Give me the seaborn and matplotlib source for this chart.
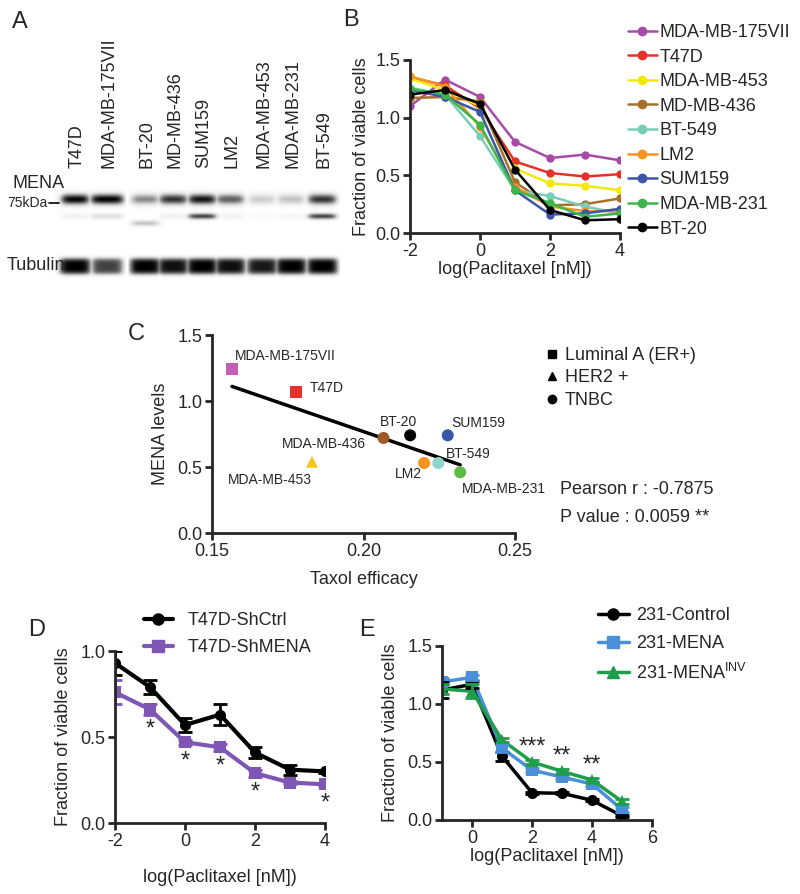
import numpy as np
import pandas as pd
import matplotlib
matplotlib.use('Agg')
import matplotlib.pyplot as plt
from matplotlib.lines import Line2D
import seaborn as sns

sns.set_style('ticks')
plt.rcParams['font.family'] = ['Liberation Sans', 'DejaVu Sans']
plt.rcParams['mathtext.default'] = 'regular'
plt.rcParams['axes.unicode_minus'] = False

# ---------------- data ----------------
# A: western blot, relative band intensities per lane
lanes = ['T47D', 'MDA-MB-175VII', 'BT-20', 'MD-MB-436', 'SUM159', 'LM2',
         'MDA-MB-453', 'MDA-MB-231', 'BT-549']
mena_band = [1.0, 1.0, 0.55, 0.85, 0.95, 0.7, 0.3, 0.35, 0.85]
lower_band = [0.12, 0.22, 0.35, 0.12, 0.8, 0.1, 0.05, 0.08, 0.8]
lower_shift = [0, 0, 7, 0, 0, 0, 0, 0, 0]
tubulin_band = [1.0, 0.8, 1.0, 0.95, 1.0, 0.95, 0.92, 1.0, 1.0]

# B: dose response per cell line
doses_b = [-2, -1, 0, 1, 2, 3, 4]
lines_b = ['MDA-MB-175VII', 'T47D', 'MDA-MB-453', 'MD-MB-436', 'BT-549',
           'LM2', 'SUM159', 'MDA-MB-231', 'BT-20']
via_175 = [1.10, 1.33, 1.18, 0.79, 0.65, 0.68, 0.63]
via_t47d = [1.35, 1.28, 1.08, 0.62, 0.52, 0.49, 0.51]
via_453 = [1.34, 1.24, 1.10, 0.56, 0.43, 0.41, 0.37]
via_436 = [1.17, 1.18, 1.14, 0.44, 0.24, 0.25, 0.30]
via_549 = [1.26, 1.20, 0.84, 0.37, 0.32, 0.23, 0.17]
via_lm2 = [1.36, 1.27, 0.92, 0.40, 0.23, 0.19, 0.19]
via_sum159 = [1.24, 1.18, 1.05, 0.37, 0.16, 0.17, 0.21]
via_231 = [1.25, 1.20, 0.94, 0.37, 0.26, 0.14, 0.17]
via_bt20 = [1.20, 1.24, 1.12, 0.55, 0.20, 0.11, 0.12]
colors_b = ['#A64CA6', '#E8302A', '#F3E80C', '#A8702A', '#7ACDB6',
            '#F7941D', '#3B55A8', '#3DB54A', '#000000']

# C: correlation
cells_c = ['MDA-MB-175VII', 'T47D', 'MDA-MB-453', 'MDA-MB-436', 'BT-20',
           'SUM159', 'LM2', 'BT-549', 'MDA-MB-231']
taxol_eff = [0.1566, 0.1777, 0.1830, 0.2066, 0.2154, 0.2278, 0.2200, 0.2247, 0.2319]
mena_lvl = [1.24, 1.07, 0.54, 0.72, 0.74, 0.74, 0.53, 0.53, 0.46]
subtype = ['Luminal A (ER+)', 'Luminal A (ER+)', 'HER2 +', 'TNBC', 'TNBC',
           'TNBC', 'TNBC', 'TNBC', 'TNBC']
colors_c = ['#C45FB8', '#E8302A', '#F7C51A', '#9C5A2A', '#000000',
            '#3A56A8', '#F7941D', '#8ED5CB', '#5DBB46']

# D: T47D knockdown
doses_d = [-2, -1, 0, 1, 2, 3, 4]
shctrl = [0.93, 0.79, 0.57, 0.63, 0.41, 0.31, 0.30]
shctrl_err = [0.07, 0.04, 0.04, 0.06, 0.03, 0.03, 0.01]
shmena = [0.76, 0.66, 0.47, 0.44, 0.29, 0.235, 0.225]
shmena_err = [0.07, 0.03, 0.015, 0.02, 0.02, 0.01, 0.01]
stars_d = ['', '*', '*', '*', '*', '', '*']

# E: MDA-MB-231 overexpression
doses_e = [-1, 0, 1, 2, 3, 4, 5]
ctrl_e = [1.12, 1.17, 0.55, 0.235, 0.23, 0.17, 0.035]
ctrl_e_err = [0.07, 0.03, 0.04, 0.01, 0.01, 0.01, 0.01]
mena_e = [1.19, 1.23, 0.62, 0.43, 0.37, 0.31, 0.09]
mena_e_err = [0.03, 0.02, 0.03, 0.02, 0.02, 0.02, 0.02]
inv_e = [1.13, 1.11, 0.69, 0.50, 0.42, 0.345, 0.16]
inv_e_err = [0.04, 0.06, 0.02, 0.02, 0.02, 0.02, 0.02]
stars_e = ['', '', '', '***', '**', '**', '']

# ---------------- figure ----------------
W, H = 800, 894
fig = plt.figure(figsize=(W / 100, H / 100), dpi=100)


def box(x0, y0, x1, y1):
    # pixel box (top-left origin) -> figure fraction rect
    return [x0 / W, 1 - y1 / H, (x1 - x0) / W, (y1 - y0) / H]


def style(ax):
    sns.despine(ax=ax)
    for s in ['left', 'bottom']:
        ax.spines[s].set_linewidth(2)
    ax.tick_params(width=2, length=5, labelsize=13, pad=2)


FS = 13

# ---- A: blot drawn from lane intensities
ax_a = fig.add_axes([0, 1 - 290 / H, 345 / W, 290 / H])
ax_a.set_xlim(0, 345)
ax_a.set_ylim(290, 0)
ax_a.axis('off')
lane_x = [75, 107, 145, 173, 202, 230, 262, 291, 322]
xs = np.arange(55, 340, 0.5)
ys = np.arange(180, 285, 0.5)
X, Y = np.meshgrid(xs, ys)
img = np.zeros_like(X)
for i, xc in enumerate(lane_x):
    hw = 16 if i == 1 else 13.5
    prof = 1 / (1 + np.exp((np.abs(X - xc) - hw) / 2.2))
    prof_t = 1 / (1 + np.exp((np.abs(X - xc) - 15) / 2.0))
    lane = (prof * mena_band[i] * np.exp(-((Y - 199) / 5.5) ** 2)
            + prof * lower_band[i] * np.exp(-((Y - 216 - lower_shift[i]) / 3.0) ** 2)
            + prof_t * tubulin_band[i] * np.exp(-((Y - 266) / 8.5) ** 4))
    img = np.maximum(img, lane)
img[(X > 125.5) & (X < 128.5)] = 0
img = np.clip(img, 0, 1)
ax_a.imshow(img, cmap='Greys', vmin=0, vmax=1, extent=[55, 340, 285, 180],
            interpolation='bilinear', aspect='auto')
for xc, name in zip(lane_x, lanes):
    ax_a.text(xc + 2, 168, name, rotation=90, ha='center', va='bottom', fontsize=FS)
ax_a.text(12, 183, 'MENA', fontsize=FS, va='center')
ax_a.text(7, 203, '75kDa', fontsize=10, va='center')
ax_a.plot([49, 59], [203, 203], color='k', lw=1.2)
ax_a.text(7, 266, 'Tubulin', fontsize=FS, va='center')

# ---- B
ax_b = fig.add_axes(box(410, 60, 620, 233))
series_b = [via_175, via_t47d, via_453, via_436, via_549, via_lm2, via_sum159, via_231, via_bt20]
df_b = pd.DataFrame({
    'dose': np.tile(doses_b, len(lines_b)),
    'viab': np.concatenate(series_b),
    'line': np.repeat(lines_b, len(doses_b)),
})
sns.lineplot(data=df_b, x='dose', y='viab', hue='line', hue_order=lines_b,
             palette=colors_b, marker='o', markersize=6, markeredgewidth=0,
             lw=1.8, legend=False, ax=ax_b)
ax_b.set_xlim(-2, 4)
ax_b.set_ylim(0, 1.5)
ax_b.set_xticks([-2, 0, 2, 4])
ax_b.set_yticks([0, 0.5, 1.0, 1.5])
ax_b.set_yticklabels(['0.0', '0.5', '1.0', '1.5'])
ax_b.set_xlabel('log(Paclitaxel [nM])', fontsize=FS, labelpad=1)
ax_b.set_ylabel('Fraction of viable cells', fontsize=FS, labelpad=4)
style(ax_b)
handles_b = [Line2D([], [], color=c, marker='o', ms=6, lw=1.8) for c in colors_b]
ax_b.legend(handles_b, lines_b, loc='upper left', bbox_to_anchor=(628 / W, 1 - 24 / H),
            bbox_transform=fig.transFigure, frameon=False, fontsize=FS,
            handlelength=1.6, handletextpad=0.15, labelspacing=0.42,
            borderpad=0, borderaxespad=0)

# ---- C
ax_c = fig.add_axes(box(212, 335, 515, 533))
df_c = pd.DataFrame({'eff': taxol_eff, 'mena': mena_lvl, 'cell': cells_c, 'type': subtype})
sns.regplot(data=df_c, x='eff', y='mena', ci=None, scatter=False,
            line_kws={'color': 'k', 'lw': 2.5}, ax=ax_c)
sns.scatterplot(data=df_c, x='eff', y='mena', hue='cell', hue_order=cells_c,
                palette=colors_c, style='type',
                markers={'Luminal A (ER+)': 's', 'HER2 +': '^', 'TNBC': 'o'},
                s=75, linewidth=0, legend=False, zorder=3, ax=ax_c)
label_off = {
    'MDA-MB-175VII': (3, 13, 'left'), 'T47D': (14, 4, 'left'),
    'BT-20': (-12, 13, 'center'), 'SUM159': (4, 12, 'left'),
    'MDA-MB-436': (-18, -6, 'right'), 'BT-549': (8, 9, 'left'),
    'MDA-MB-453': (0, -18, 'right'), 'LM2': (-2, -11, 'right'),
    'MDA-MB-231': (2, -17, 'left'),
}
for name, xv, yv in zip(cells_c, taxol_eff, mena_lvl):
    dx, dy, ha = label_off[name]
    ax_c.annotate(name, (xv, yv), xytext=(dx * 0.72, dy * 0.72), textcoords='offset points',
                  ha=ha, va='center', fontsize=10)
ax_c.set_xlim(0.15, 0.25)
ax_c.set_ylim(0, 1.5)
ax_c.set_xticks([0.15, 0.20, 0.25])
ax_c.set_xticklabels(['0.15', '0.20', '0.25'])
ax_c.set_yticks([0, 0.5, 1.0, 1.5])
ax_c.set_yticklabels(['0.0', '0.5', '1.0', '1.5'])
ax_c.set_xlabel('Taxol efficacy', fontsize=FS, labelpad=8)
ax_c.set_ylabel('MENA levels', fontsize=FS, labelpad=6)
style(ax_c)
handles_c = [Line2D([], [], color='k', marker=m, ms=ms, lw=0) for m, ms in [('s', 5.5), ('^', 6), ('o', 6)]]
ax_c.legend(handles_c, ['Luminal A (ER+)', 'HER2 +', 'TNBC'], loc='upper left',
            bbox_to_anchor=(545 / W, 1 - 347 / H), bbox_transform=fig.transFigure,
            frameon=False, fontsize=FS, handlelength=0.8, handletextpad=0.3,
            labelspacing=0.3, borderpad=0, borderaxespad=0)
fig.text(560 / W, 1 - 489 / H, 'Pearson r : -0.7875', fontsize=FS, va='center')
fig.text(560 / W, 1 - 517 / H, 'P value : 0.0059 **', fontsize=FS, va='center')

# ---- D
ax_d = fig.add_axes(box(115, 651, 325, 823))
df_d = pd.DataFrame({
    'dose': doses_d * 2,
    'viab': shctrl + shmena,
    'group': ['T47D-ShCtrl'] * 7 + ['T47D-ShMENA'] * 7,
})
pal_d = {'T47D-ShCtrl': '#000000', 'T47D-ShMENA': '#7E57B5'}
sns.lineplot(data=df_d, x='dose', y='viab', hue='group', palette=pal_d,
             style='group', markers={'T47D-ShCtrl': 'o', 'T47D-ShMENA': 's'},
             dashes=False, markersize=8, markeredgewidth=0, lw=3, legend=False, ax=ax_d)
ax_d.errorbar(doses_d, shctrl, yerr=shctrl_err, fmt='none', ecolor='k', elinewidth=2, capsize=5, capthick=2)
ax_d.errorbar(doses_d, shmena, yerr=shmena_err, fmt='none', ecolor='#7E57B5', elinewidth=2, capsize=5, capthick=2)
for xv, yv, st in zip(doses_d, shmena, stars_d):
    if st:
        ax_d.text(xv, yv - 0.05, st, ha='center', va='top', fontsize=17)
ax_d.set_xlim(-2, 4)
ax_d.set_ylim(0, 1.0)
ax_d.set_xticks([-2, 0, 2, 4])
ax_d.set_yticks([0, 0.5, 1.0])
ax_d.set_yticklabels(['0.0', '0.5', '1.0'])
ax_d.set_xlabel('log(Paclitaxel [nM])', fontsize=FS, labelpad=14)
ax_d.set_ylabel('Fraction of viable cells', fontsize=FS, labelpad=6)
style(ax_d)
handles_d = [Line2D([], [], color='k', marker='o', ms=8, lw=3),
             Line2D([], [], color='#7E57B5', marker='s', ms=8, lw=3)]
ax_d.legend(handles_d, ['T47D-ShCtrl', 'T47D-ShMENA'], loc='upper left',
            bbox_to_anchor=(144 / W, 1 - 612 / H), bbox_transform=fig.transFigure,
            frameon=False, fontsize=FS, handlelength=1.6, handletextpad=0.8,
            labelspacing=0.55, borderpad=0, borderaxespad=0)

# ---- E
ax_e = fig.add_axes(box(442, 646, 652, 820))
groups_e = ['231-Control', '231-MENA', '231-MENA$^{INV}$']
df_e = pd.DataFrame({
    'dose': doses_e * 3,
    'viab': ctrl_e + mena_e + inv_e,
    'group': np.repeat(groups_e, 7),
})
pal_e = dict(zip(groups_e, ['#000000', '#4A90D9', '#1E9E4A']))
sns.lineplot(data=df_e, x='dose', y='viab', hue='group', palette=pal_e,
             style='group', markers=dict(zip(groups_e, ['o', 's', '^'])),
             dashes=False, markersize=8, markeredgewidth=0, lw=2.5, legend=False, ax=ax_e)
for vals, errs, c in [(ctrl_e, ctrl_e_err, '#000000'), (mena_e, mena_e_err, '#4A90D9'),
                      (inv_e, inv_e_err, '#1E9E4A')]:
    ax_e.errorbar(doses_e, vals, yerr=errs, fmt='none', ecolor=c, elinewidth=2, capsize=5, capthick=2)
for xv, yv, st in zip(doses_e, inv_e, stars_e):
    if st:
        ax_e.text(xv, yv + 0.03, st, ha='center', va='bottom', fontsize=17)
ax_e.set_xlim(-1, 6)
ax_e.set_ylim(0, 1.5)
ax_e.set_xticks([0, 2, 4, 6])
ax_e.set_yticks([0, 0.5, 1.0, 1.5])
ax_e.set_yticklabels(['0.0', '0.5', '1.0', '1.5'])
ax_e.set_xlabel('log(Paclitaxel [nM])', fontsize=FS, labelpad=1)
ax_e.set_ylabel('Fraction of viable cells', fontsize=FS, labelpad=6)
style(ax_e)
handles_e = [Line2D([], [], color=c, marker=m, ms=8, lw=2.5)
             for c, m in zip(['#000000', '#4A90D9', '#1E9E4A'], ['o', 's', '^'])]
ax_e.legend(handles_e, groups_e, loc='upper left',
            bbox_to_anchor=(598 / W, 1 - 607 / H), bbox_transform=fig.transFigure,
            frameon=False, fontsize=FS, handlelength=1.7, handletextpad=0.4,
            labelspacing=0.6, borderpad=0, borderaxespad=0)

# panel letters
for letter, x, y in [('A', 12, 22), ('B', 343, 20), ('C', 128, 334), ('D', 28, 630), ('E', 359, 630)]:
    fig.text(x / W, 1 - y / H, letter, fontsize=17, va='center')

fig.savefig('out.png', dpi=100)
